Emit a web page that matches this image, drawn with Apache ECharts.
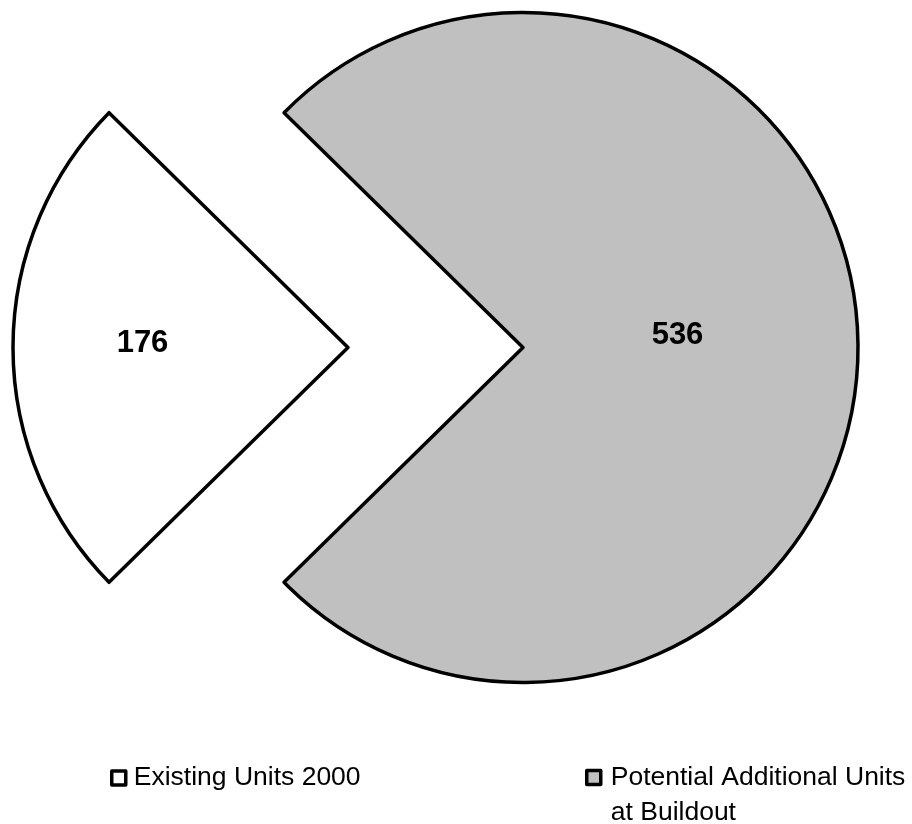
<!DOCTYPE html>
<html>
<head>
<meta charset="utf-8">
<script src="https://cdn.jsdelivr.net/npm/echarts@6/dist/echarts.min.js"></script>
<style>
  html, body { margin: 0; padding: 0; background: #fff; }
  #chart { width: 912px; height: 824px; }
</style>
</head>
<body>
<div id="chart"></div>
<script>
// Housing units: existing stock vs. potential additional units at buildout
const categories = ['Existing Units 2000', 'Potential Additional Units at Buildout'];
const unitValues = [176, 536];
const sliceColors = ['#FFFFFF', '#C0C0C0'];
// Label nudges (px) from the default inside-label position, per slice
const labelNudge = [[-35, -4], [-16, -12]];

const FONT = '"Liberation Sans", Arial, Helvetica, sans-serif';
const total = unitValues.reduce((a, b) => a + b, 0);
// Centre the first slice on the left-hand side of the pie
const startAngle = 180 + (unitValues[0] / total) * 360 / 2;

const chart = echarts.init(document.getElementById('chart'), null, { renderer: 'canvas' });

const legendBase = {
  orient: 'horizontal',
  padding: 0,
  icon: 'rect',
  itemWidth: 14,
  itemHeight: 14,
  selectedMode: false,
  itemStyle: { borderColor: '#000', borderWidth: 3.5 },
  textStyle: {
    fontFamily: FONT,
    fontSize: 26.5,
    color: '#000',
    lineHeight: 32,
    padding: [0, 0, 0, 3]
  }
};

chart.setOption({
  animation: false,
  backgroundColor: '#fff',
  legend: [
    Object.assign({}, legendBase, {
      data: [categories[0]],
      left: 110,
      top: 762
    }),
    Object.assign({}, legendBase, {
      data: [categories[1]],
      left: 585,
      top: 725,
      formatter: (name) => '\n' + name,
      textStyle: Object.assign({}, legendBase.textStyle, {
        width: 305, overflow: 'break', lineHeight: 35, padding: [0, 0, 0, 5]
      })
    })
  ],
  series: [{
    type: 'pie',
    center: [435.5, 347.5],
    radius: 335,
    startAngle: startAngle,
    clockwise: true,
    selectedMode: 'multiple',
    selectedOffset: 87.5,
    avoidLabelOverlap: false,
    emphasis: { disabled: true },
    itemStyle: { borderColor: '#000', borderWidth: 3.5 },
    label: {
      show: true,
      position: 'inside',
      formatter: '{c}',
      fontFamily: FONT,
      fontSize: 31,
      fontWeight: 'bold',
      color: '#000'
    },
    labelLine: { show: false },
    labelLayout: (params) => ({
      dx: labelNudge[params.dataIndex][0],
      dy: labelNudge[params.dataIndex][1]
    }),
    data: categories.map((name, i) => ({
      name: name,
      value: unitValues[i],
      selected: true,
      itemStyle: { color: sliceColors[i] }
    }))
  }]
});
</script>
</body>
</html>
